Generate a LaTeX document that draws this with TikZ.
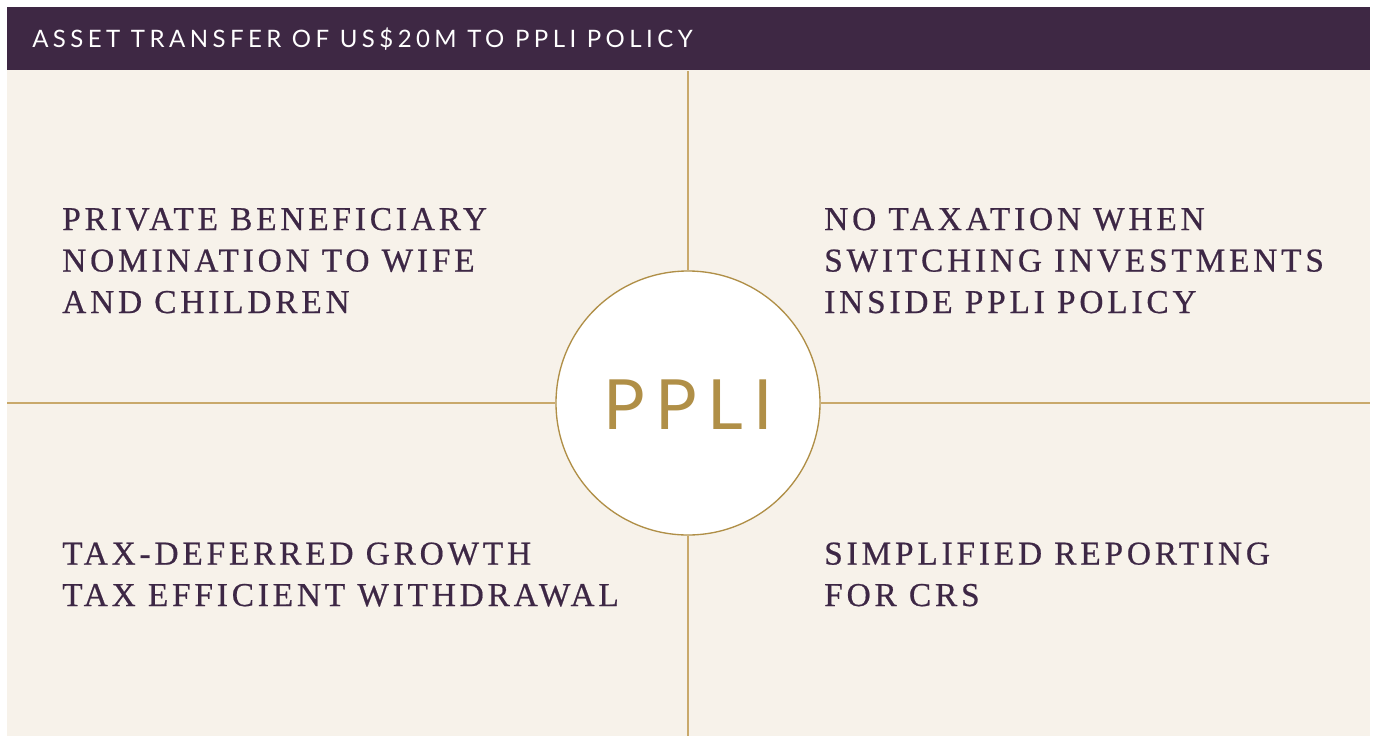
\documentclass[tikz,border=0pt]{standalone}
\usepackage{fontspec}
\setmainfont{Liberation Serif}
\newfontfamily\bodyfont[LetterSpace=11.5,FakeBold=0.6]{Liberation Serif}
\newfontfamily\headfont[LetterSpace=18.5]{Lato}
\newfontfamily\ppliFont[LetterSpace=15]{Lato}
\definecolor{headpurple}{HTML}{3E2844}
\definecolor{textpurple}{HTML}{3D2745}
\definecolor{beige}{HTML}{F7F2EA}
\definecolor{goldline}{HTML}{C9A96B}
\definecolor{gold}{HTML}{B08F47}
\tikzset{
  quad/.style={anchor=base west, inner sep=0pt, align=left, text=textpurple,
    font=\bodyfont\fontsize{25}{31.1}\selectfont},
  divider/.style={draw=goldline, line width=1.2pt},
}
\begin{document}
\begin{tikzpicture}[x=0.75pt,y=-0.75pt]
\useasboundingbox (0,0) rectangle (1375,736);
\fill[white] (0,0) rectangle (1375,736);
% background
\fill[beige] (7,70) rectangle (1370,736);
\fill[headpurple] (7,7) rectangle (1370,70);
\node[anchor=base west, inner sep=0pt, text=white, font=\headfont\fontsize{18}{20}\selectfont] (title) at (32,47) {ASSET TRANSFER OF US\$20M TO PPLI POLICY};
% dividers
\coordinate (top) at (688,71);
\coordinate (bottom) at (688,736);
\coordinate (left) at (7,403);
\coordinate (right) at (1370,403);
\node[circle, draw=gold, line width=1pt, fill=white, minimum size=264*0.75pt, inner sep=0pt] (hub) at (688,403) {};
\draw[divider] (top) -- (hub.north);
\draw[divider] (hub.south) -- (bottom);
\draw[divider] (left) -- (hub.west);
\draw[divider] (hub.east) -- (right);
\node[inner sep=0pt, text=gold, font=\ppliFont\fontsize{52}{56}\selectfont, anchor=base west] (ppli) at (603,429) {PPLI};
% quadrant texts (anchored at the baseline of the last line)
\node[quad] (tl) at (62,313) {PRIVATE BENEFICIARY\\NOMINATION TO WIFE\\AND CHILDREN};
\node[quad] (tr) at (824,313) {NO TAXATION WHEN\\SWITCHING INVESTMENTS\\INSIDE PPLI POLICY};
\node[quad] (bl) at (62,606) {TAX-DEFERRED GROWTH\\TAX EFFICIENT WITHDRAWAL};
\node[quad] (br) at (824,606) {SIMPLIFIED REPORTING\\FOR CRS};
\end{tikzpicture}
\end{document}
